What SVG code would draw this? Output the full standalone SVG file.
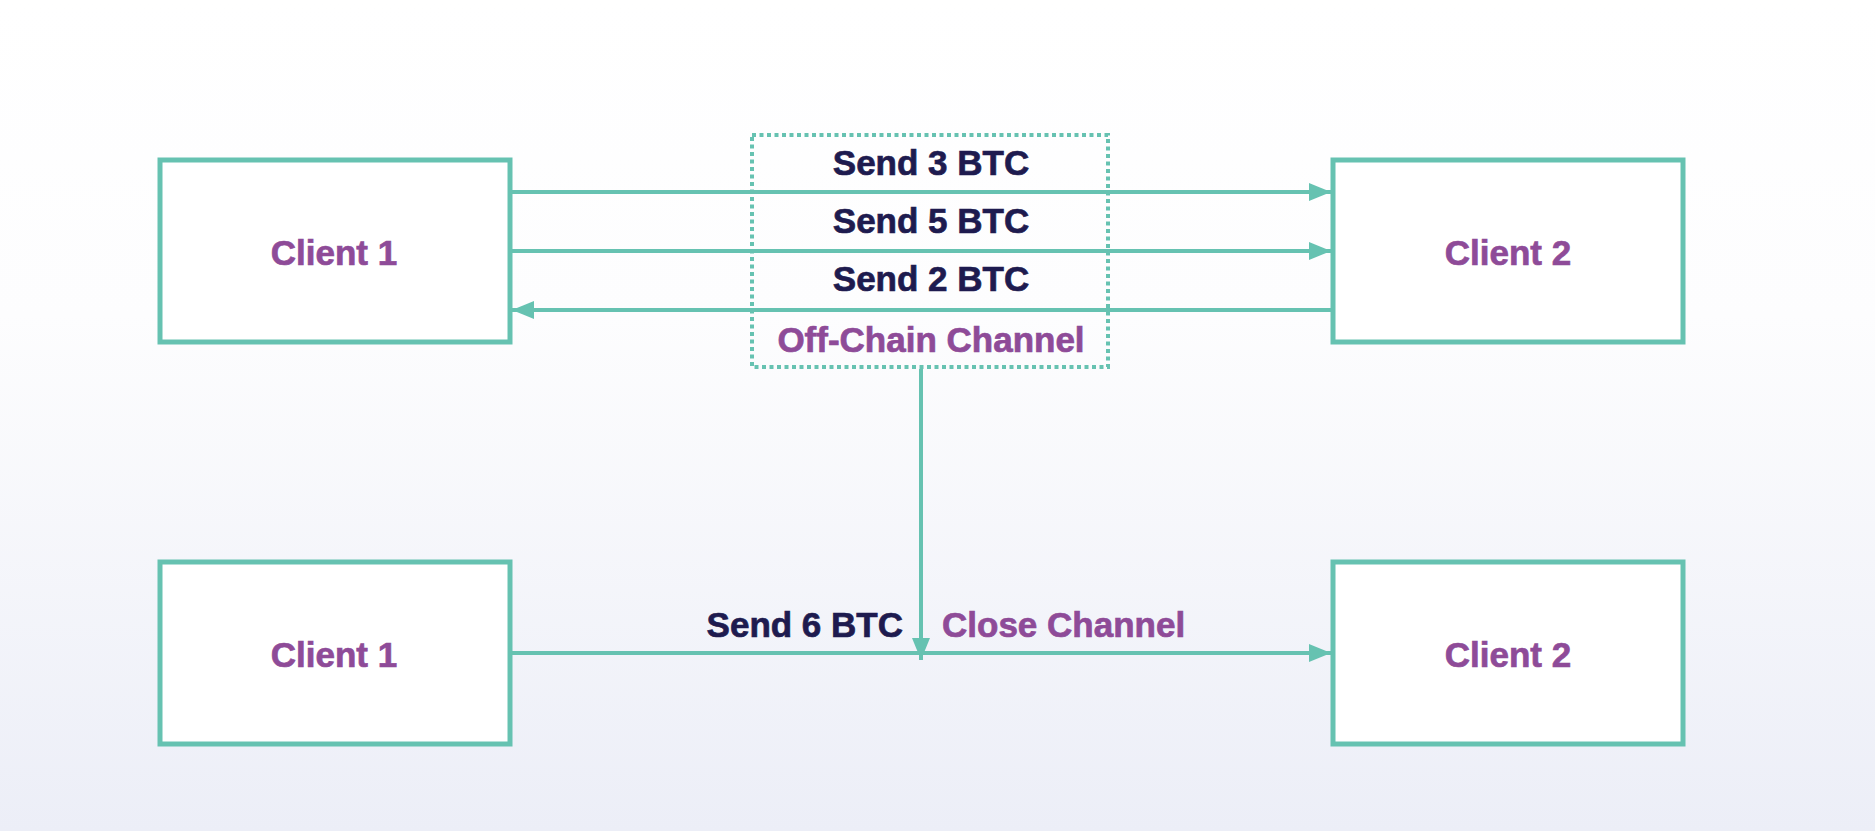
<svg xmlns="http://www.w3.org/2000/svg" width="1875" height="831" viewBox="0 0 1875 831">
<defs>
<linearGradient id="bg" x1="0" y1="0" x2="0" y2="1">
<stop offset="0" stop-color="#ffffff"/>
<stop offset="0.38" stop-color="#fdfdfe"/>
<stop offset="1" stop-color="#eceef7"/>
</linearGradient>
<marker id="ah" markerUnits="userSpaceOnUse" markerWidth="24" markerHeight="20" refX="22" refY="9" orient="auto">
<path d="M0,0 L22,9 L0,18 Z" fill="#66c2b1"/>
</marker>
<style>
.box{fill:#ffffff;stroke:#66c2b1;stroke-width:5}
.conn{stroke:#66c2b1;stroke-width:4;fill:none}
.lbl{font-family:"Liberation Sans",Arial,sans-serif;font-weight:bold;font-size:35px;stroke-width:0.7px}
.client{fill:#8e4b98;stroke:#8e4b98;text-anchor:middle}
.send{fill:#1e1b4f;stroke:#1e1b4f}
.purple{fill:#8e4b98;stroke:#8e4b98}
</style>
</defs>
<rect width="1875" height="831" fill="url(#bg)"/>

<g id="top-client1">
<rect class="box" x="160" y="160" width="350" height="182"/>
<text class="lbl client" x="334" y="265">Client 1</text>
</g>
<g id="top-client2">
<rect class="box" x="1333" y="160" width="350" height="182"/>
<text class="lbl client" x="1508" y="265">Client 2</text>
</g>
<g id="bottom-client1">
<rect class="box" x="160" y="562" width="350" height="182"/>
<text class="lbl client" x="334" y="667">Client 1</text>
</g>
<g id="bottom-client2">
<rect class="box" x="1333" y="562" width="350" height="182"/>
<text class="lbl client" x="1508" y="667">Client 2</text>
</g>

<g id="off-chain-channel">
<rect x="752" y="135" width="356" height="232" fill="none" stroke="#66c2b1" stroke-width="4" stroke-dasharray="4 3.5"/>
<text class="lbl purple" x="931" y="352" text-anchor="middle">Off-Chain Channel</text>
</g>

<g id="connectors">
<line class="conn" x1="512" y1="192" x2="1331" y2="192" marker-end="url(#ah)"/>
<line class="conn" x1="512" y1="251" x2="1331" y2="251" marker-end="url(#ah)"/>
<line class="conn" x1="1331" y1="310" x2="512" y2="310" marker-end="url(#ah)"/>
<line class="conn" x1="921" y1="369" x2="921" y2="660" marker-end="url(#ah)"/>
<line class="conn" x1="512" y1="653" x2="1331" y2="653" marker-end="url(#ah)"/>
</g>

<g id="labels">
<text class="lbl send" x="931" y="175" text-anchor="middle">Send 3 BTC</text>
<text class="lbl send" x="931" y="233" text-anchor="middle">Send 5 BTC</text>
<text class="lbl send" x="931" y="291" text-anchor="middle">Send 2 BTC</text>
<text class="lbl send" x="903" y="637" text-anchor="end">Send 6 BTC</text>
<text class="lbl purple" x="942" y="637">Close Channel</text>
</g>
</svg>
